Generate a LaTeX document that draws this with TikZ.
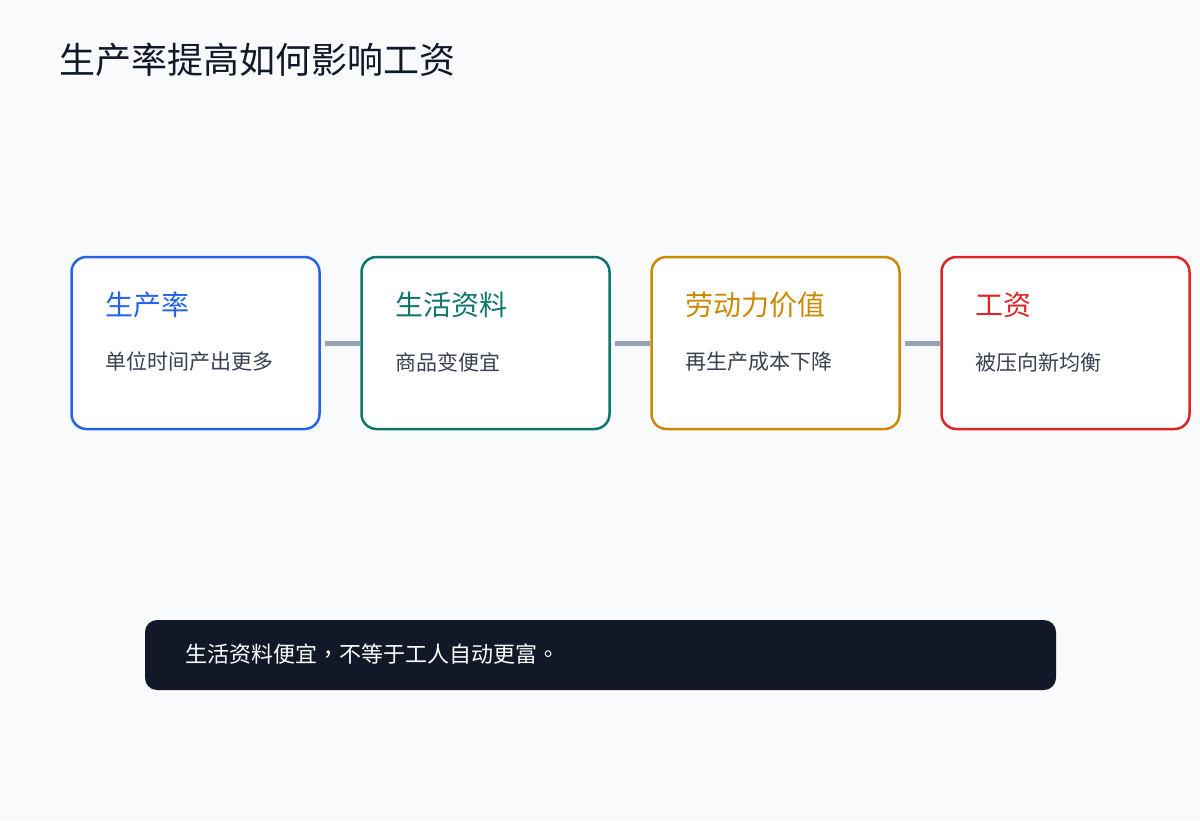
\documentclass[tikz,border=0pt]{standalone}
\usepackage{fontspec}
\setmainfont{Noto Sans CJK SC}
\newfontfamily\punctfont{Noto Sans CJK TC}
\usetikzlibrary{positioning}

\definecolor{bgpage}{HTML}{F8FAFC}
\definecolor{inkdark}{HTML}{111827}
\definecolor{inksub}{HTML}{374151}
\definecolor{linkgray}{HTML}{94A3B8}
\definecolor{cblue}{HTML}{2563EB}
\definecolor{cgreen}{HTML}{0F766E}
\definecolor{camber}{HTML}{CA8A04}
\definecolor{cred}{HTML}{DC2626}

\tikzset{
  stagebox/.style={draw=#1, fill=white, line width=2.5pt, rounded corners=15pt,
    minimum width=248pt, minimum height=172pt, inner sep=0pt},
  stagehead/.style={anchor=west, inner sep=0pt, text=#1, font=\fontsize{28pt}{32pt}\selectfont},
  stagenote/.style={anchor=west, inner sep=0pt, text=inksub, font=\fontsize{21pt}{24pt}\selectfont},
  link/.style={draw=linkgray, line width=5pt}
}

\begin{document}
\begin{tikzpicture}[x=1pt, y=-1pt]
% Page
\fill[bgpage] (0,0) rectangle (1200,820);
\useasboundingbox (0,0) rectangle (1200,820);
% Title
\node[anchor=west, inner sep=0pt, text=inkdark, font=\fontsize{36pt}{40pt}\selectfont] (title) at (59,60) {生产率提高如何影响工资};
% Stage boxes
\node[stagebox=cblue] (prod) at (195.5,343) {};
\node[stagebox=cgreen] (goods) at (485.5,343) {};
\node[stagebox=camber] (labour) at (775.5,343) {};
\node[stagebox=cred] (wage) at (1065.5,343) {};
% Box texts
\node[stagehead=cblue] (prod-h) at (105,305) {生产率};
\node[stagenote] (prod-n) at (105,362) {单位时间产出更多};
\node[stagehead=cgreen] (goods-h) at (395,305) {生活资料};
\node[stagenote] (goods-n) at (395,362) {商品变便宜};
\node[stagehead=camber] (labour-h) at (685,305) {劳动力价值};
\node[stagenote] (labour-n) at (685,362) {再生产成本下降};
\node[stagehead=cred] (wage-h) at (975,305) {工资};
\node[stagenote] (wage-n) at (975,362) {被压向新均衡};
% Connectors
\draw[link] ([xshift=4pt]prod.east) -- (goods.west);
\draw[link] ([xshift=4pt]goods.east) -- (labour.west);
\draw[link] ([xshift=4pt]labour.east) -- (wage.west);
% Bottom note
\node[fill=inkdark, rounded corners=12pt, minimum width=911pt, minimum height=70pt, inner sep=0pt] (note) at (600.5,655) {};
\node[anchor=west, inner sep=0pt, text=white, font=\fontsize{22pt}{26pt}\selectfont] (note-t) at (185,654) {生活资料便宜{\punctfont ，}不等于工人自动更富{\punctfont 。}};
\end{tikzpicture}
\end{document}
